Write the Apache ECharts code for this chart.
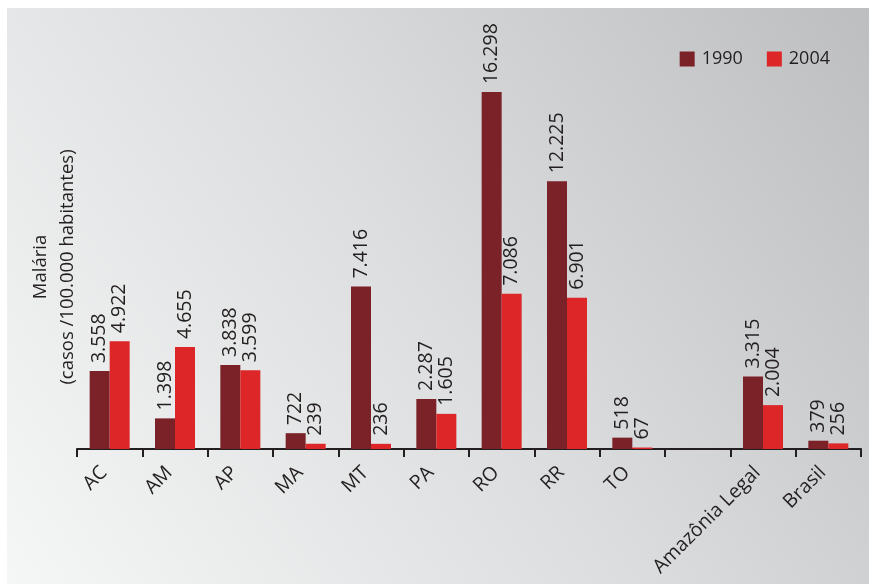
<!DOCTYPE html>
<html>
<head>
<meta charset="utf-8">
<script src="https://cdn.jsdelivr.net/npm/echarts@6/dist/echarts.min.js"></script>
<style>
  html, body { margin: 0; padding: 0; background: #fff; }
  #chart { width: 869px; height: 587px; }
</style>
</head>
<body>
<div id="chart"></div>
<script>
// Malaria incidence per state (cases per 100,000 inhabitants)
const categories = ['AC', 'AM', 'AP', 'MA', 'MT', 'PA', 'RO', 'RR', 'TO', '', 'Amazônia Legal', 'Brasil'];
const values1990 = [3558, 1398, 3838, 722, 7416, 2287, 16298, 12225, 518, null, 3315, 379];
const values2004 = [4922, 4655, 3599, 239, 236, 1605, 7086, 6901, 67, null, 2004, 256];
const seriesNames = ['1990', '2004'];
const axisTitle = 'Malária\n(casos /100.000 habitantes)';

const FONT = '"Open Sans", "DejaVu Sans", sans-serif';
const INK = '#231F20';

function fmt(v) {
  return String(v).replace(/\B(?=(\d{3})+(?!\d))/g, '.');
}

const valueLabel = {
  show: true,
  position: 'top',
  rotate: 90,
  align: 'left',
  verticalAlign: 'middle',
  distance: 8,
  color: INK,
  fontFamily: FONT,
  fontSize: 19.5,
  formatter: p => fmt(p.value)
};

const chart = echarts.init(document.getElementById('chart'));
chart.setOption({
  backgroundColor: '#ffffff',
  animation: false,
  graphic: [
    {
      type: 'rect',
      z: -10,
      silent: true,
      shape: { x: 7, y: 8, width: 862, height: 576 },
      style: {
        fill: new echarts.graphic.LinearGradient(0, 1, 1, 0, [
          { offset: 0, color: '#F5F6F6' },
          { offset: 0.5, color: '#DCDDDE' },
          { offset: 1, color: '#BDBEC0' }
        ])
      }
    },
    {
      type: 'text',
      x: 54,
      y: 267,
      rotation: Math.PI / 2,
      style: {
        text: axisTitle,
        fill: INK,
        font: '18.5px ' + FONT,
        align: 'center',
        verticalAlign: 'middle',
        lineHeight: 27
      }
    }
  ],
  legend: {
    data: seriesNames,
    top: 45,
    right: 34,
    itemWidth: 15,
    itemHeight: 15,
    itemGap: 24,
    icon: 'rect',
    textStyle: { color: INK, fontFamily: FONT, fontSize: 18, padding: [0, 0, 0, 2] }
  },
  grid: { left: 77, right: 8, top: 11, bottom: 138, containLabel: false },
  xAxis: {
    type: 'category',
    data: categories,
    axisLine: { lineStyle: { color: INK, width: 2 } },
    axisTick: { show: true, length: 8, lineStyle: { color: INK, width: 2 } },
    axisLabel: {
      rotate: 45,
      color: INK,
      fontFamily: FONT,
      fontSize: 19.5,
      margin: 15,
      padding: [0, 8, 0, 0],
      interval: 0
    }
  },
  yAxis: {
    type: 'value',
    min: 0,
    max: 20000,
    show: false,
    splitLine: { show: false }
  },
  series: [
    {
      name: seriesNames[0],
      type: 'bar',
      data: values1990,
      barWidth: 20,
      barGap: '0%',
      itemStyle: { color: '#7B2128' },
      label: valueLabel
    },
    {
      name: seriesNames[1],
      type: 'bar',
      data: values2004,
      barWidth: 20,
      barGap: '0%',
      itemStyle: { color: '#DC2628' },
      label: valueLabel
    }
  ]
});
</script>
</body>
</html>
